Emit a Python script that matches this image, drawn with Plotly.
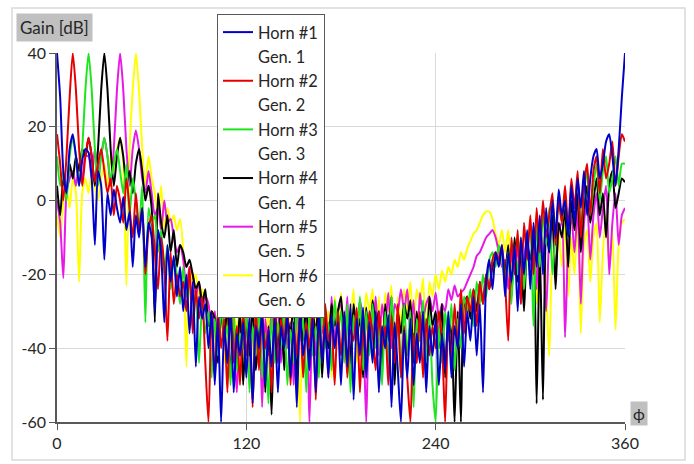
import plotly.graph_objects as go

# phi sample positions (degrees)
PHI = list(range(0, 361, 2))

X_TICKS = [0, 120, 240, 360]
Y_TICKS = [-60, -40, -20, 0, 20, 40]

NAMES = ["Horn #1", "Horn #2", "Horn #3", "Horn #4", "Horn #5", "Horn #6"]
GEN_NAMES = ["Gen. 1", "Gen. 2", "Gen. 3", "Gen. 4", "Gen. 5", "Gen. 6"]
COLORS = ["#0000c8", "#e60000", "#1ee61e", "#000000", "#e619e6", "#ffff00"]

horn1 = [40, 28, 8, 2, 14, 18, 12, 4, 11, 14,
         13, 6, -12, 8, 4, -16, 2, -4, 3, -2,
         -6, 1, -8, -3, -18, -4, -10, -2, -18, -6,
         -10, -30, -8, -14, -33, -12, -22, -15, -26, -18,
         -30, -20, -36, -22, -45, -26, -32, -28, -40, -30,
         -50, -32, -60, -34, -44, -30, -52, -36, -42, -33,
         -48, -31, -55, -34, -40, -30, -50, -35, -45, -32,
         -52, -34, -40, -31, -48, -33, -56, -30, -42, -35,
         -46, -32, -52, -30, -44, -34, -48, -31, -40, -33,
         -50, -30, -45, -28, -54, -32, -42, -29, -48, -33,
         -44, -30, -52, -34, -40, -31, -56, -33, -46, -60,
         -35, -48, -32, -50, -36, -44, -30, -52, -34, -42,
         -32, -50, -36, -46, -30, -48, -34, -40, -28, -45,
         -30, -38, -26, -42, -28, -52, -22, -16, -24, -14,
         -18, -12, -26, -14, -22, -12, -30, -10, -20, -8,
         -24, -6, -18, -4, -20, -2, -14, 0, -10, 3,
         -4, 0, -10, 4, -6, 6, -2, 8, -4, 6,
         12, 14, 6, 10, 16, 18, 12, 4, 14, 28,
         40]

horn2 = [18, 10, 0, 12, 28, 40, 30, 14, 4, 12,
         17, 12, 5, 10, 14, 8, 2, 6, -4, 4,
         0, -6, 6, -2, -10, 2, -8, -2, -20, -8,
         -4, -14, -24, -10, -18, -38, -14, -28, -20, -26,
         -22, -30, -18, -36, -24, -32, -26, -44, -60, -30,
         -48, -30, -40, -32, -52, -28, -44, -34, -50, -30,
         -42, -33, -56, -29, -46, -31, -40, -35, -52, -30,
         -44, -32, -38, -28, -50, -34, -42, -30, -48, -33,
         -40, -29, -54, -32, -44, -28, -38, -34, -50, -30,
         -42, -31, -48, -35, -38, -29, -52, -33, -44, -30,
         -36, -46, -30, -40, -34, -50, -31, -44, -28, -48,
         -34, -48, -60, -36, -44, -30, -48, -32, -42, -34,
         -40, -30, -38, -60, -32, -44, -28, -40, -24, -36,
         -26, -30, -24, -34, -22, -28, -20, -24, -16, -14,
         -16, -12, -22, -38, -10, -20, -8, -28, -6, -16,
         -4, -20, -2, -14, 0, -10, -4, 2, -12, 0,
         -6, 4, -8, 6, -2, 8, -10, 4, 10, -4,
         8, 12, 2, 14, 6, 10, 16, 4, 12, 18,
         16]

horn3 = [12, 4, 8, 0, 12, 17, 12, 4, 14, 30,
         40, 30, 14, 4, 12, 17, 12, 6, 10, 14,
         8, 2, 10, -4, 6, 0, -8, 4, -33, -2,
         -6, -4, -14, -8, -20, -12, -24, -16, -20, -28,
         -18, -26, -22, -34, -24, -44, -28, -36, -30, -48,
         -32, -42, -28, -38, -34, -50, -30, -46, -36, -40,
         -30, -52, -34, -42, -28, -48, -36, -55, -31, -44,
         -33, -40, -29, -50, -35, -44, -28, -38, -32, -52,
         -30, -42, -34, -48, -28, -40, -33, -46, -27, -36,
         -30, -44, -28, -52, -31, -38, -26, -46, -30, -42,
         -28, -40, -34, -50, -30, -44, -26, -36, -32, -48,
         -28, -42, -30, -56, -32, -38, -27, -44, -31, -50,
         -60, -34, -44, -30, -38, -28, -46, -32, -40, -26,
         -30, -24, -34, -22, -28, -20, -26, -16, -14, -18,
         -12, -16, -22, -14, -28, -12, -20, -10, -24, -12,
         -8, -34, -6, -18, -4, -12, -2, -20, -8, 0,
         -6, 2, -10, 4, -2, 6, -8, 2, 8, -4,
         4, 10, 0, 8, 12, 2, 6, 12, 4, 10,
         10]

horn4 = [4, -4, 6, 2, 10, 6, 12, 8, 14, 12,
         17, 12, 4, 14, 30, 40, 30, 14, 4, 12,
         17, 12, 4, 8, 2, 10, 14, 8, 0, 4,
         -2, -33, 2, -6, -10, -4, -14, -8, -18, -12,
         -14, -18, -16, -20, -24, -22, -28, -24, -34, -30,
         -32, -44, -30, -38, -28, -48, -34, -40, -30, -50,
         -32, -42, -28, -46, -36, -30, -52, -34, -58, -30,
         -40, -28, -46, -32, -36, -27, -50, -30, -38, -28,
         -44, -30, -36, -26, -48, -32, -40, -28, -34, -30,
         -26, -38, -30, -44, -28, -36, -32, -48, -29, -40,
         -27, -34, -30, -46, -28, -38, -26, -50, -30, -36,
         -28, -32, -27, -44, -30, -38, -28, -46, -26, -34,
         -30, -40, -28, -48, -32, -36, -60, -30, -60, -28,
         -26, -32, -24, -30, -22, -28, -20, -24, -18, -16,
         -16, -14, -20, -12, -26, -10, -22, -14, -30, -12,
         -16, -10, -55, -12, -54, -8, -14, -4, -24, -6,
         -10, -2, -18, 0, -8, 2, -14, -2, 4, -6,
         0, 6, -4, 2, -10, 4, 8, -2, 2, 6,
         5]

horn5 = [0, -6, -21, 2, 6, 8, 4, 10, 6, 12,
         12, 6, 14, 8, 12, 17, 12, 4, 14, 30,
         40, 30, 14, 4, 14, 19, 14, 6, 2, 8,
         2, -4, -2, -8, 0, -6, -5, -10, -14, -12,
         -16, -24, -18, -20, -26, -22, -30, -26, -28, -36,
         -30, -40, -28, -36, -44, -30, -38, -52, -32, -40,
         -30, -46, -34, -38, -28, -56, -32, -42, -30, -36,
         -28, -44, -30, -40, -33, -50, -28, -38, -30, -32,
         -60, -30, -42, -28, -36, -30, -48, -26, -38, -30,
         -28, -40, -26, -46, -30, -36, -27, -34, -60, -30,
         -36, -26, -42, -28, -34, -25, -40, -28, -30, -24,
         -30, -24, -36, -27, -44, -25, -32, -28, -26, -30,
         -25, -32, -28, -30, -24, -27, -23, -26, -25, -24,
         -22, -20, -18, -15, -14, -12, -10, -9, -8, -10,
         -14, -18, -16, -24, -14, -20, -12, -28, -16, -10,
         -18, -8, -24, -6, -14, -30, -10, -4, -20, -8,
         -6, -37, -12, -4, -14, -2, -28, -6, 0, -16,
         -4, 2, -10, -2, 4, -20, -6, 2, -12, -4,
         -2]

horn6 = [-4, -10, 0, 4, -2, 6, 2, -22, 2, 6,
         2, 8, 4, 0, 6, 10, 4, 12, 8, 14,
         17, 10, -23, 14, 30, 40, 30, 14, 4, 12,
         6, 2, -4, 4, -8, -2, -6, -4, -8, -5,
         -14, -45, -18, -22, -20, -26, -24, -30, -28, -34,
         -30, -38, -28, -44, -32, -40, -30, -36, -28, -48,
         -30, -40, -28, -34, -44, -29, -38, -30, -48, -32,
         -28, -42, -30, -36, -26, -46, -30, -60, -28, -40,
         -26, -38, -28, -44, -25, -34, -30, -48, -26, -36,
         -25, -40, -28, -32, -24, -44, -27, -36, -25, -30,
         -24, -38, -26, -42, -25, -30, -23, -46, -26, -34,
         -24, -30, -22, -36, -24, -28, -21, -40, -22, -26,
         -20, -24, -19, -22, -18, -20, -16, -18, -14, -16,
         -13, -11, -9, -8, -6, -4, -3, -3, -5, -9,
         -12, -8, -14, -8, -18, -12, -10, -16, -22, -14,
         -20, -12, -28, -16, -10, -24, -42, -14, -20, -8,
         -18, -6, -26, -10, -20, -4, -36, -12, -8, -22,
         -10, -6, -33, -14, -4, -18, -8, -35, -12, -6,
         -5]

SERIES = [horn1, horn2, horn3, horn4, horn5, horn6]

FONT = "Lato"
TXT = "#262626"

fig = go.Figure()
# add in reverse so Horn #1 (blue) is drawn on top; legendrank fixes legend order
for i in reversed(range(6)):
    fig.add_trace(go.Scatter(
        x=[None], y=[None], mode="lines", name=GEN_NAMES[i],
        line=dict(color="rgba(0,0,0,0)", width=2),
        legendgroup=f"g{i}", legendrank=2 * i + 1, hoverinfo="skip"))
    fig.add_trace(go.Scatter(
        x=PHI, y=SERIES[i], mode="lines", name=NAMES[i],
        line=dict(color=COLORS[i], width=2, shape="spline", smoothing=0.6),
        legendgroup=f"h{i}", legendrank=2 * i))

W, H = 694, 464
L, R, T, B = 57, 69, 53, 33
pw, ph = W - L - R, H - T - B

def px(xp):
    return (xp - L) / pw

def py(yp):
    return (H - B - yp) / ph

fig.update_layout(
    width=W, height=H,
    margin=dict(l=L, r=R, t=T, b=B, pad=0),
    paper_bgcolor="white", plot_bgcolor="white",
    font=dict(family=FONT, size=16, color=TXT),
    showlegend=True,
    legend=dict(
        x=px(217), y=py(13), xanchor="left", yanchor="top",
        bgcolor="white", bordercolor="#595959", borderwidth=1,
        font=dict(family=FONT, size=16.4, color=TXT),
        traceorder="grouped", tracegroupgap=0,
        itemwidth=30, maxheight=360,
    ),
    xaxis=dict(
        range=[0, 360], tickvals=X_TICKS, ticktext=[str(v) for v in X_TICKS],
        showgrid=True, gridcolor="#d9d9d9", gridwidth=1,
        showline=True, linecolor="#595959", linewidth=1.5,
        ticks="outside", ticklen=6, tickcolor="#595959",
        zeroline=False, tickfont=dict(family=FONT, size=16, color=TXT),
    ),
    yaxis=dict(
        range=[-60, 40], tickvals=Y_TICKS, ticktext=[str(v) for v in Y_TICKS],
        showgrid=True, gridcolor="#d9d9d9", gridwidth=1,
        showline=True, linecolor="#595959", linewidth=1.5,
        ticks="outside", ticklen=6, tickcolor="#595959",
        zeroline=False, tickfont=dict(family=FONT, size=16, color=TXT),
    ),
    shapes=[dict(type="rect", xref="paper", yref="paper",
                 x0=px(12), x1=px(685), y0=py(470), y1=py(7),
                 line=dict(color="#d9d9d9", width=1.5), layer="below")],
    annotations=[
        dict(text="Gain [dB]", xref="paper", yref="paper",
             x=px(16), y=py(12), xanchor="left", yanchor="top",
             showarrow=False, bgcolor="#c0c0c0", borderpad=3,
             font=dict(family=FONT, size=17, color=TXT)),
        dict(text="ϕ", xref="paper", yref="paper",
             x=px(630), y=py(409), xanchor="left", yanchor="top",
             showarrow=False, bgcolor="#c0c0c0", borderpad=2,
             font=dict(family=FONT, size=16, color=TXT)),
    ],
)

fig.write_html("out.html")
